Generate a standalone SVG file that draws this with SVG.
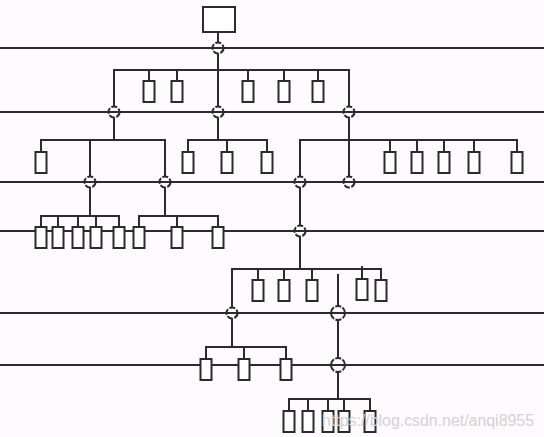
<svg xmlns="http://www.w3.org/2000/svg" width="544" height="437" viewBox="0 0 544 437">
<style>
.bg{fill:#fdfbfd}
.ln{stroke:#2b2b2b;stroke-width:2;fill:none}
.cn{stroke:#2b2b2b;stroke-width:2;fill:none}
.bx{fill:#ffffff;stroke:#2b2b2b;stroke-width:2}
.nd{fill:#ffffff;stroke:#2b2b2b;stroke-width:2;stroke-dasharray:6 1.5}
.nl{stroke:#2b2b2b;stroke-width:2}
.wm{font-family:"Liberation Sans",Arial,sans-serif;font-size:16px;fill:#d4d2d4}
</style>
<defs>
<rect id="dev" x="-5.5" y="0" width="11" height="21" class="bx"/>
<g id="node"><circle r="5.5" class="nd"/><line x1="-5.5" y1="0" x2="5.5" y2="0" class="nl"/></g>
<g id="bignode"><circle r="7" class="nd"/><line x1="-7" y1="0" x2="7" y2="0" class="nl"/></g>
</defs>
<rect class="bg" x="0" y="0" width="544" height="437"/>
<g id="networks">
<line class="ln" x1="0" y1="48" x2="544" y2="48"/>
<line class="ln" x1="0" y1="112" x2="544" y2="112"/>
<line class="ln" x1="0" y1="182" x2="544" y2="182"/>
<line class="ln" x1="0" y1="231" x2="544" y2="231"/>
<line class="ln" x1="0" y1="313" x2="544" y2="313"/>
<line class="ln" x1="0" y1="365" x2="544" y2="365"/>
</g>
<g id="connectors">
<path class="cn" d="M218 32V112"/>
<path class="cn" d="M114 112V70H349V112"/>
<path class="cn" d="M149 70V81M177 70V81M248 70V81M284 70V81M318 70V81"/>
<path class="cn" d="M114 112V140"/>
<path class="cn" d="M41 152V140H165V182M90 140V182"/>
<path class="cn" d="M218 112V140"/>
<path class="cn" d="M188 152V140H267V152M227 140V152"/>
<path class="cn" d="M349 112V182"/>
<path class="cn" d="M300 182V140H517V152M390 140V152M417 140V152M444 140V152M474 140V152"/>
<path class="cn" d="M90 182V216"/>
<path class="cn" d="M41 227V216H119V227M58 216V227M78 216V227M96 216V227"/>
<path class="cn" d="M165 182V216"/>
<path class="cn" d="M139 227V216H218V227M177 216V227"/>
<path class="cn" d="M300 182V269"/>
<path class="cn" d="M232 313V269H381V280M258 269V280M284 269V280M312 269V280M362 266V280"/>
<path class="cn" d="M338 274V365"/>
<path class="cn" d="M232 313V347"/>
<path class="cn" d="M206 359V347H286V359M244 347V359"/>
<path class="cn" d="M338 365V399"/>
<path class="cn" d="M289 411V399H370V411M308 399V411M328 399V411M344 399V411"/>
</g>
<g id="host"><rect x="203" y="7" width="32" height="25" class="bx"/></g>
<g id="nodes">
<use href="#node" x="218" y="48"/>
<use href="#node" x="114" y="112"/>
<use href="#node" x="218" y="112"/>
<use href="#node" x="349" y="112"/>
<use href="#node" x="90" y="182"/>
<use href="#node" x="165" y="182"/>
<use href="#node" x="300" y="182"/>
<use href="#node" x="349" y="182"/>
<use href="#node" x="300" y="231"/>
<use href="#node" x="232" y="313"/>
<use href="#bignode" x="338" y="313"/>
<use href="#bignode" x="338" y="365"/>
</g>
<g id="devices-row1">
<use href="#dev" x="149" y="81"/><use href="#dev" x="177" y="81"/><use href="#dev" x="248" y="81"/><use href="#dev" x="284" y="81"/><use href="#dev" x="318" y="81"/>
</g>
<g id="devices-row2">
<use href="#dev" x="41" y="152"/><use href="#dev" x="188" y="152"/><use href="#dev" x="227" y="152"/><use href="#dev" x="267" y="152"/>
<use href="#dev" x="390" y="152"/><use href="#dev" x="417" y="152"/><use href="#dev" x="444" y="152"/><use href="#dev" x="474" y="152"/><use href="#dev" x="517" y="152"/>
</g>
<g id="devices-row3">
<use href="#dev" x="41" y="227"/><use href="#dev" x="58" y="227"/><use href="#dev" x="78" y="227"/><use href="#dev" x="96" y="227"/><use href="#dev" x="119" y="227"/>
<use href="#dev" x="139" y="227"/><use href="#dev" x="177" y="227"/><use href="#dev" x="218" y="227"/>
</g>
<g id="devices-row4">
<use href="#dev" x="258" y="280"/><use href="#dev" x="284" y="280"/><use href="#dev" x="312" y="280"/><use href="#dev" x="362" y="279"/><use href="#dev" x="381" y="280"/>
</g>
<g id="devices-row5">
<use href="#dev" x="206" y="359"/><use href="#dev" x="244" y="359"/><use href="#dev" x="286" y="359"/>
</g>
<g id="devices-row6">
<use href="#dev" x="289" y="411"/><use href="#dev" x="308" y="411"/><use href="#dev" x="328" y="411"/><use href="#dev" x="344" y="411"/><use href="#dev" x="370" y="411"/>
</g>
<text class="wm" x="322" y="426" textLength="212" lengthAdjust="spacingAndGlyphs">https://blog.csdn.net/anqi8955</text>
</svg>
